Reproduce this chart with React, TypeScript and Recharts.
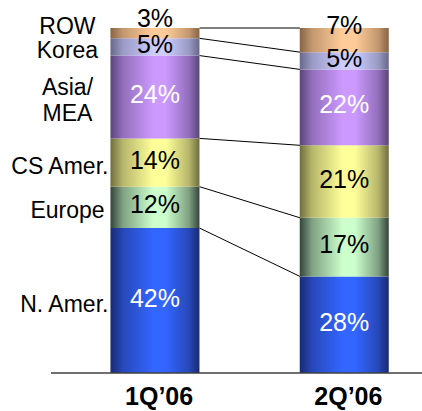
import { ComposedChart, Bar, XAxis, YAxis, ReferenceLine, LabelList } from "recharts"

// Regional revenue mix, bottom of the stack first
const quarters = ["1Q’06", "2Q’06"]
const regions = ["N. Amer.", "Europe", "CS Amer.", "Asia/\nMEA", "Korea", "ROW"]
const share1Q = [42, 12, 14, 24, 5, 3]
const share2Q = [28, 17, 21, 22, 5, 7]

// cylinder shading: dark edge colour and bright centre colour per region
const edgeColors = ["#1a2a72", "#34443a", "#6e6e3e", "#5a4478", "#68688a", "#866444"]
const centerColors = ["#3366ff", "#ccffcc", "#ffff99", "#cc99ff", "#ccccff", "#ffcc99"]
const labelColors = ["#ffffff", "#000000", "#000000", "#ffffff", "#000000", "#000000"]

const W = 422
const H = 411
const margin = { top: 28, right: 0, bottom: 8, left: 51 }
const xDomain = [-0.55, 1.41]
const barSize = 89
const font = "'Liberation Sans', Arial, sans-serif"

const shares = [share1Q, share2Q]
const data = quarters.map((q, i) => {
  const row: Record<string, number | string> = { pos: i, quarter: q }
  regions.forEach((_, k) => {
    row["r" + k] = shares[i][k]
  })
  return row
})

const cumulative = (arr: number[], n: number) => arr.slice(0, n).reduce((a, b) => a + b, 0)

// half a bar width in x-axis units, so connectors start/end at bar edges
const unitPx = (W - margin.left - margin.right) / (xDomain[1] - xDomain[0])
const halfBar = barSize / 2 / unitPx

function mix(a: string, b: string) {
  const p = (h: string, i: number) => parseInt(h.slice(1 + i * 2, 3 + i * 2), 16)
  const out = [0, 1, 2].map((i) => Math.round((p(a, i) + p(b, i)) / 2).toString(16).padStart(2, "0"))
  return "#" + out.join("")
}

const topIndex = regions.length - 1

const pctLabel = (k: number) => (props: any) => {
  const { x, y, width, height, value } = props
  const cy = Number(y) + Number(height) / 2 + (k === topIndex ? -12 : 0)
  return (
    <text
      x={Number(x) + Number(width) / 2}
      y={cy + 6}
      textAnchor="middle"
      fontSize={25}
      fontFamily={font}
      fill={labelColors[k]}
    >
      {value}%
    </text>
  )
}

const regionLabel = (k: number) => (props: any) => {
  const { x, y, height, index } = props
  if (index !== 0) return null
  const lines = regions[k].split("\n")
  const wide = lines[0].length >= 8
  const tx = wide ? Number(x) - 2 : Number(x) - 43
  const cy = Number(y) + Number(height) / 2 + (k === topIndex ? -10 : 0)
  const first = cy + 11 - (lines.length - 1) * 13
  return (
    <text textAnchor={wide ? "end" : "middle"} fontSize={23} fontFamily={font} fill="#000">
      {lines.map((l, j) => (
        <tspan key={j} x={tx} y={first + j * 26}>
          {l}
        </tspan>
      ))}
    </text>
  )
}

const QuarterTick = (props: any) => {
  const { x, y, payload } = props
  return (
    <text x={Number(x) + 4} y={Number(y) + 32} textAnchor="middle" fontSize={25} fontWeight={700} fontFamily={font} fill="#000">
      {quarters[payload.value]}
    </text>
  )
}

export default function App() {
  return (
    <div style={{ position: "absolute", left: 0, top: 0, background: "#fff" }}>
      <ComposedChart width={W} height={H} data={data} margin={margin} barSize={barSize}>
        <defs>
          {regions.map((_, k) => (
            <linearGradient key={k} id={"grad" + k} x1="0" y1="0" x2="1" y2="0">
              <stop offset="0%" stopColor={edgeColors[k]} />
              <stop offset="14%" stopColor={mix(edgeColors[k], centerColors[k])} />
              <stop offset="48%" stopColor={centerColors[k]} />
              <stop offset="62%" stopColor={centerColors[k]} />
              <stop offset="88%" stopColor={mix(edgeColors[k], centerColors[k])} />
              <stop offset="100%" stopColor={edgeColors[k]} />
            </linearGradient>
          ))}
        </defs>
        <XAxis
          type="number"
          dataKey="pos"
          domain={xDomain}
          ticks={[0, 1]}
          tick={<QuarterTick />}
          tickLine={false}
          tickSize={0}
          tickMargin={0}
          axisLine={{ stroke: "#404040", strokeWidth: 1.5 }}
          height={30}
        />
        <YAxis hide domain={[0, 100]} />
        {regions.map((_, k) => (
          <Bar key={k} dataKey={"r" + k} stackId="mix" fill={`url(#grad${k})`} isAnimationActive={false}>
            <LabelList dataKey={"r" + k} content={pctLabel(k)} />
            <LabelList dataKey={"r" + k} content={regionLabel(k)} />
          </Bar>
        ))}
        {regions.map((_, k) => (
          <ReferenceLine
            key={"c" + k}
            segment={[
              { x: halfBar, y: cumulative(share1Q, k + 1) },
              { x: 1 - halfBar, y: cumulative(share2Q, k + 1) },
            ]}
            stroke="#000"
            strokeWidth={1}
          />
        ))}
      </ComposedChart>
    </div>
  )
}
